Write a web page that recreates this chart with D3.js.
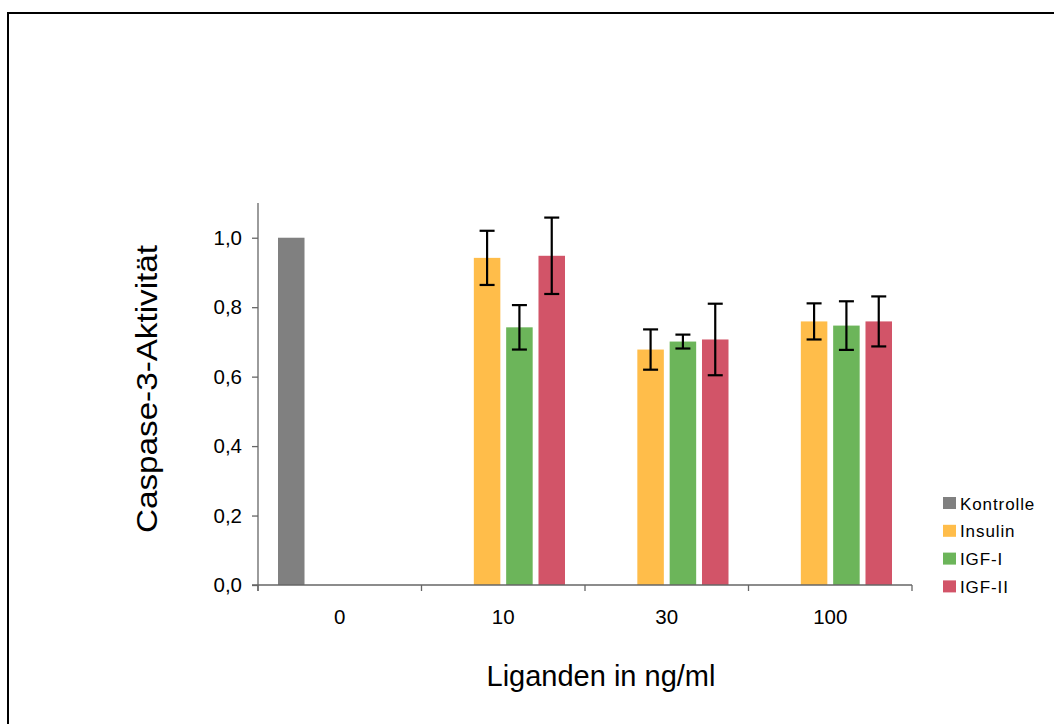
<!DOCTYPE html>
<html>
<head>
<meta charset="utf-8">
<script src="https://cdn.jsdelivr.net/npm/d3@7/dist/d3.min.js"></script>
<style>
  html, body { margin: 0; padding: 0; background: #fff; }
  svg { display: block; font-family: "Liberation Sans", Arial, sans-serif; }
</style>
</head>
<body>
<svg id="chart" width="1054" height="724"></svg>
<script>
// ---- data ----
const categories = ["0", "10", "30", "100"];
const seriesNames = ["Kontrolle", "Insulin", "IGF-I", "IGF-II"];
const kontrolle    = [1.0, null, null, null];
const kontrolleErr = [null, null, null, null];
const insulin      = [null, 0.942, 0.678, 0.759];
const insulinErr   = [null, 0.078, 0.058, 0.052];
const igf1         = [null, 0.742, 0.701, 0.747];
const igf1Err      = [null, 0.064, 0.020, 0.070];
const igf2         = [null, 0.948, 0.707, 0.759];
const igf2Err      = [null, 0.110, 0.103, 0.072];
const yTicks = [0, 0.2, 0.4, 0.6, 0.8, 1.0];
const yTitle = "Caspase-3-Aktivität";
const xTitle = "Liganden in ng/ml";

const seriesValues = [kontrolle, insulin, igf1, igf2];
const seriesErrors = [kontrolleErr, insulinErr, igf1Err, igf2Err];
const colors = ["#808080", "#FFBD4A", "#6CB55A", "#D25468"];

// ---- layout ----
const svg = d3.select("#chart");
const plot = { left: 258, right: 912, top: 203, bottom: 585 };

// outer border
svg.append("rect")
  .attr("x", 8).attr("y", 13)
  .attr("width", 1060).attr("height", 730)
  .attr("fill", "none").attr("stroke", "#000").attr("stroke-width", 2);

const x = d3.scaleBand().domain(categories).range([plot.left, plot.right]).padding(0);
const xs = d3.scaleBand().domain(seriesNames).range([20, x.bandwidth() - 20]).paddingInner(0.18).paddingOuter(0);
const y = d3.scaleLinear().domain([0, 1.1]).range([plot.bottom, plot.top]);

// bars
const g = svg.append("g");
const rows = [];
seriesNames.forEach((s, si) => {
  categories.forEach((c, ci) => {
    const v = seriesValues[si][ci];
    if (v == null) return;
    rows.push({ s, si, c, v, e: seriesErrors[si][ci] });
  });
});

g.selectAll("rect.bar").data(rows).join("rect")
  .attr("class", "bar")
  .attr("x", d => x(d.c) + xs(d.s))
  .attr("width", xs.bandwidth())
  .attr("y", d => y(d.v))
  .attr("height", d => y(0) - y(d.v))
  .attr("fill", d => colors[d.si]);

// error bars
const errRows = rows.filter(d => d.e != null);
const eg = g.selectAll("g.err").data(errRows).join("g").attr("class", "err")
  .attr("stroke", "#000").attr("stroke-width", 2.2);
const cx = d => x(d.c) + xs(d.s) + xs.bandwidth() / 2;
eg.append("line")
  .attr("x1", cx).attr("x2", cx)
  .attr("y1", d => y(d.v + d.e)).attr("y2", d => y(d.v - d.e));
eg.append("line")
  .attr("x1", d => cx(d) - 7.5).attr("x2", d => cx(d) + 7.5)
  .attr("y1", d => y(d.v + d.e)).attr("y2", d => y(d.v + d.e));
eg.append("line")
  .attr("x1", d => cx(d) - 7.5).attr("x2", d => cx(d) + 7.5)
  .attr("y1", d => y(d.v - d.e)).attr("y2", d => y(d.v - d.e));

// y axis
const yAxis = d3.axisLeft(y).tickValues(yTicks).tickSize(6).tickPadding(10)
  .tickFormat(d => d3.format(".1f")(d).replace(".", ","));
const ya = svg.append("g").attr("transform", `translate(${plot.left},0)`).call(yAxis);
ya.select(".domain").attr("stroke", "#666").attr("stroke-width", 1.3)
  .attr("d", `M0,${plot.top}V${plot.bottom + 6}`);
ya.selectAll(".tick line").attr("stroke", "#666").attr("stroke-width", 1.3);
ya.selectAll(".tick text").attr("font-size", 20.5).attr("fill", "#000")
  .attr("font-family", "Liberation Sans, Arial, sans-serif");

// x axis
const tickPos = categories.map(c => x(c)).concat([plot.right]);
const xa = svg.append("g");
xa.append("line").attr("x1", plot.left - 6).attr("x2", plot.right)
  .attr("y1", plot.bottom).attr("y2", plot.bottom)
  .attr("stroke", "#666").attr("stroke-width", 1.3);
xa.selectAll("line.xt").data(tickPos).join("line").attr("class", "xt")
  .attr("x1", d => d).attr("x2", d => d)
  .attr("y1", plot.bottom).attr("y2", plot.bottom + 6)
  .attr("stroke", "#666").attr("stroke-width", 1.3);
xa.selectAll("text").data(categories).join("text")
  .attr("x", d => x(d) + x.bandwidth() / 2)
  .attr("y", plot.bottom + 39)
  .attr("text-anchor", "middle")
  .attr("font-size", 20.5)
  .text(d => d);

// axis titles
svg.append("text")
  .attr("x", 601).attr("y", 686)
  .attr("text-anchor", "middle")
  .attr("font-size", 29)
  .text(xTitle);

svg.append("text")
  .attr("transform", "translate(157,389) rotate(-90)")
  .attr("text-anchor", "middle")
  .attr("font-size", 29)
  .attr("textLength", 288)
  .attr("lengthAdjust", "spacingAndGlyphs")
  .text(yTitle);

// legend
const leg = svg.append("g").attr("transform", "translate(943,503)");
const li = leg.selectAll("g").data(seriesNames).join("g")
  .attr("transform", (d, i) => `translate(0,${i * 27.8})`);
li.append("rect").attr("x", 0).attr("y", -6).attr("width", 13).attr("height", 12)
  .attr("fill", (d, i) => colors[i]);
li.append("text").attr("x", 17).attr("y", 6.5)
  .attr("font-size", 17)
  .attr("letter-spacing", 0.9)
  .text(d => d);
</script>
</body>
</html>
